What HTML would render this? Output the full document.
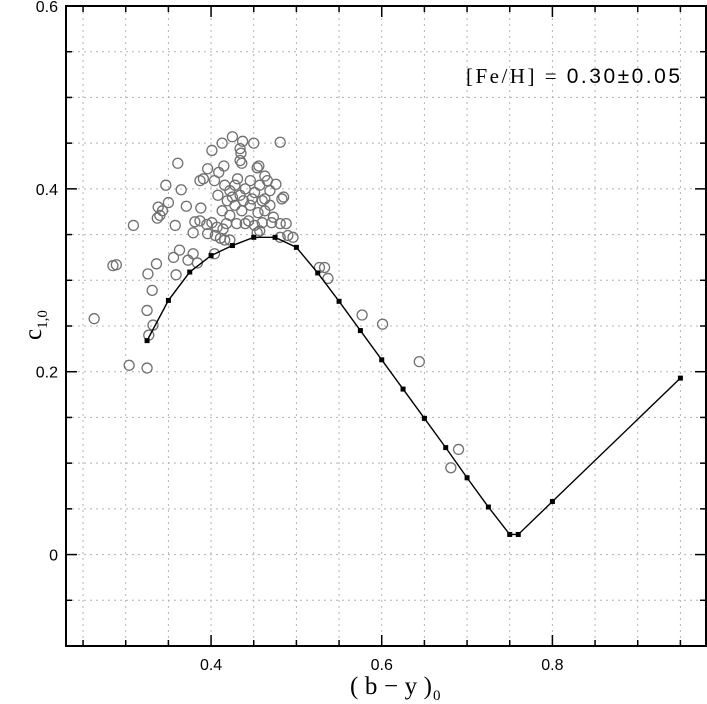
<!DOCTYPE html>
<html><head><meta charset="utf-8"><style>
html,body{margin:0;padding:0;background:#fff;}
svg{display:block;}
</style></head><body>
<svg id="chart" width="707" height="704" xmlns="http://www.w3.org/2000/svg" font-family="Liberation Sans, sans-serif">
<g id="grid"></g>
<g id="ticks"></g>
<g id="scatter"></g>
<g id="curve"></g>
<rect x="66" y="6" width="640" height="640" fill="none" stroke="#000" stroke-width="2"/>
<text x="466" y="83" font-size="21" textLength="214" lengthAdjust="spacing" style="font-family:'Liberation Serif',serif">[Fe/H]  =  <tspan style="font-family:'Liberation Sans',sans-serif">0.30±0.05</tspan></text>
<text x="350" y="694" font-size="25" textLength="82" style="font-family:'Liberation Serif',serif">(b−y)</text>
<text x="433" y="700" font-size="15" style="font-family:'Liberation Serif',serif">0</text>
<text transform="translate(41,340) rotate(-90)" font-size="25" style="font-family:'Liberation Serif',serif">c<tspan font-size="15" dy="6">1,0</tspan></text>
</svg>
<script>
const xTicks=[0.4,0.6,0.8];
const xTickLabels=["0.4","0.6","0.8"];
const yTicks=[0,0.2,0.4,0.6];
const yTickLabels=["0","0.2","0.4","0.6"];
const curveX=[0.325,0.35,0.375,0.40,0.425,0.45,0.475,0.50,0.525,0.55,0.575,0.60,0.625,0.65,0.675,0.70,0.725,0.75,0.76,0.80,0.95];
const curveY=[0.234,0.278,0.309,0.327,0.338,0.347,0.347,0.336,0.308,0.277,0.245,0.213,0.181,0.149,0.117,0.084,0.052,0.022,0.022,0.058,0.193];
const starX=[0.263,0.304,0.325,0.309,0.289,0.285,0.326,0.336,0.331,0.325,0.332,0.327,0.356,0.359,0.363,0.373,0.379,0.384,0.404,0.379,0.358,0.347,0.350,0.337,0.340,0.338,0.343,0.365,0.361,0.371,0.388,0.381,0.387,0.395,0.401,0.407,0.396,0.405,0.414,0.411,0.416,0.422,0.430,0.440,0.454,0.457,0.387,0.391,0.396,0.404,0.401,0.413,0.425,0.437,0.450,0.481,0.434,0.435,0.415,0.409,0.434,0.436,0.454,0.456,0.463,0.476,0.483,0.485,0.473,0.471,0.481,0.488,0.490,0.496,0.481,0.527,0.533,0.537,0.577,0.601,0.644,0.681,0.690,0.416,0.422,0.428,0.434,0.440,0.446,0.451,0.457,0.463,0.469,0.419,0.428,0.436,0.446,0.455,0.463,0.413,0.422,0.444,0.460,0.469,0.431,0.448,0.425,0.408,0.460,0.438,0.451,0.466,0.418];
const starY=[0.258,0.207,0.204,0.360,0.317,0.316,0.307,0.318,0.289,0.267,0.251,0.240,0.325,0.306,0.333,0.322,0.329,0.319,0.329,0.352,0.360,0.404,0.385,0.368,0.371,0.380,0.376,0.399,0.428,0.381,0.379,0.364,0.365,0.361,0.363,0.358,0.351,0.349,0.356,0.346,0.344,0.344,0.362,0.362,0.352,0.354,0.409,0.411,0.422,0.409,0.442,0.450,0.457,0.452,0.450,0.451,0.444,0.439,0.425,0.418,0.431,0.428,0.423,0.425,0.414,0.405,0.389,0.391,0.369,0.363,0.362,0.362,0.349,0.347,0.347,0.314,0.314,0.302,0.262,0.252,0.211,0.095,0.115,0.404,0.398,0.404,0.393,0.400,0.409,0.396,0.404,0.389,0.398,0.387,0.382,0.376,0.382,0.374,0.376,0.376,0.371,0.365,0.363,0.382,0.411,0.389,0.391,0.393,0.387,0.387,0.360,0.409,0.362];
const X0=0.23,X1=0.98,Y0=-0.1,Y1=0.6;
const L=66,R=706,T=6,B=646;
const sx=v=>L+(v-X0)/(X1-X0)*(R-L);
const sy=v=>B-(v-Y0)/(Y1-Y0)*(B-T);
const NS="http://www.w3.org/2000/svg";
function mk(tag,attrs,parent){const e=document.createElementNS(NS,tag);for(const k in attrs)e.setAttribute(k,attrs[k]);parent.appendChild(e);return e;}
const grid=document.getElementById('grid'),ticks=document.getElementById('ticks');
for(let i=0;i<=15;i++){const v=0.25+i*0.05;if(v>X1)break;const x=sx(v);
 const g=mk('line',{x1:x,x2:x,y1:T,y2:B,stroke:'#b4b4b4','stroke-width':1,'stroke-dasharray':'2,4'},grid);
 
 const major=Math.abs(v*10-Math.round(v*10))<1e-6&&Math.round(v*10)%2===0;const len=major?11:6;
 const t1=mk('line',{x1:x,x2:x,y1:B,y2:B-len,stroke:'#000','stroke-width':1.5},ticks);
 
 const t2=mk('line',{x1:x,x2:x,y1:T,y2:T+len,stroke:'#000','stroke-width':1.5},ticks);
 }
for(let i=1;i<14;i++){const v=-0.1+i*0.05;const y=sy(v);
 const g=mk('line',{x1:L,x2:R,y1:y,y2:y,stroke:'#b4b4b4','stroke-width':1,'stroke-dasharray':'2,4'},grid);
 
 const major=i%4===2;const len=major?11:6;
 const t1=mk('line',{x1:L,x2:L+len,y1:y,y2:y,stroke:'#000','stroke-width':1.5},ticks);
 
 const t2=mk('line',{x1:R,x2:R-len,y1:y,y2:y,stroke:'#000','stroke-width':1.5},ticks);
 }
xTicks.forEach((v,i)=>{const t=mk('text',{x:sx(v),y:B+24,'font-size':16,'text-anchor':'middle'},ticks);t.textContent=xTickLabels[i];
 });
yTicks.forEach((v,i)=>{const t=mk('text',{x:L-8,y:sy(v)+6,'font-size':16,'text-anchor':'end'},ticks);t.textContent=yTickLabels[i];
 });
const sc=document.getElementById('scatter');
starX.forEach((v,i)=>{const c=mk('circle',{cx:sx(v),cy:sy(starY[i]),r:5,fill:'none',stroke:'#707070','stroke-width':1.3},sc);
 });
const cv=document.getElementById('curve');
const p=mk('polyline',{points:curveX.map((v,i)=>sx(v)+','+sy(curveY[i])).join(' '),fill:'none',stroke:'#000','stroke-width':1.4},cv);

curveX.forEach((v,i)=>{const r=mk('rect',{x:sx(v)-2.5,y:sy(curveY[i])-2.5,width:5,height:5,fill:'#000'},cv);
 });
</script>
</body></html>
